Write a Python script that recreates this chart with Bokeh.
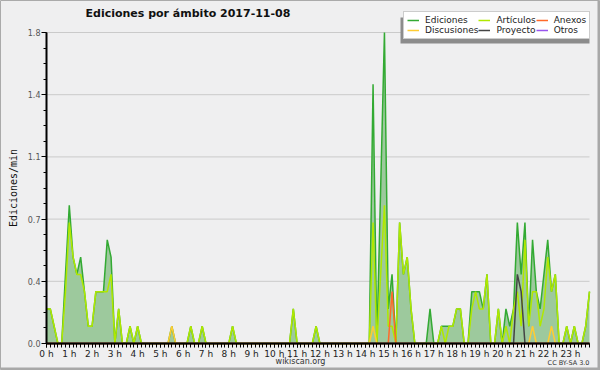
from bokeh.plotting import figure
from bokeh.models import FixedTicker, Legend, LegendItem, Label, BoxAnnotation, ColumnDataSource
from bokeh.embed import file_html
from bokeh.resources import INLINE

# ---- data: edits per minute, 10-minute slots from 0:00 to 23:50 (one row per hour) ----
hour_labels = [f"{h} h" for h in range(24)]
slot_index = list(range(144))

ediciones = [
    0.2, 0.2, 0.1, 0.0, 0.0, 0.4,
    0.8, 0.5, 0.4, 0.5, 0.3, 0.1,
    0.1, 0.3, 0.3, 0.3, 0.6, 0.5,
    0.0, 0.2, 0.0, 0.0, 0.1, 0.0,
    0.1, 0.0, 0.0, 0.0, 0.0, 0.0,
    0.0, 0.0, 0.0, 0.1, 0.0, 0.0,
    0.0, 0.0, 0.1, 0.0, 0.0, 0.1,
    0.0, 0.0, 0.0, 0.0, 0.0, 0.0,
    0.0, 0.1, 0.0, 0.0, 0.0, 0.0,
    0.0, 0.0, 0.0, 0.0, 0.0, 0.0,
    0.0, 0.0, 0.0, 0.0, 0.0, 0.2,
    0.0, 0.0, 0.0, 0.0, 0.0, 0.1,
    0.0, 0.0, 0.0, 0.0, 0.0, 0.0,
    0.0, 0.0, 0.0, 0.0, 0.0, 0.0,
    0.0, 0.0, 1.5, 0.0, 0.9, 1.8,
    0.2, 0.4, 0.0, 0.7, 0.4, 0.5,
    0.2, 0.0, 0.0, 0.0, 0.0, 0.2,
    0.0, 0.0, 0.1, 0.1, 0.1, 0.1,
    0.2, 0.2, 0.0, 0.0, 0.3, 0.3,
    0.3, 0.2, 0.4, 0.0, 0.0, 0.2,
    0.0, 0.2, 0.1, 0.2, 0.7, 0.4,
    0.7, 0.1, 0.6, 0.3, 0.2, 0.4,
    0.6, 0.3, 0.4, 0.0, 0.0, 0.1,
    0.0, 0.1, 0.0, 0.0, 0.1, 0.3,
]

articulos = [
    0.2, 0.2, 0.1, 0.0, 0.0, 0.3,
    0.7, 0.5, 0.4, 0.4, 0.3, 0.1,
    0.1, 0.3, 0.3, 0.3, 0.3, 0.4,
    0.0, 0.2, 0.0, 0.0, 0.1, 0.0,
    0.1, 0.0, 0.0, 0.0, 0.0, 0.0,
    0.0, 0.0, 0.0, 0.0, 0.0, 0.0,
    0.0, 0.0, 0.1, 0.0, 0.0, 0.1,
    0.0, 0.0, 0.0, 0.0, 0.0, 0.0,
    0.0, 0.1, 0.0, 0.0, 0.0, 0.0,
    0.0, 0.0, 0.0, 0.0, 0.0, 0.0,
    0.0, 0.0, 0.0, 0.0, 0.0, 0.2,
    0.0, 0.0, 0.0, 0.0, 0.0, 0.1,
    0.0, 0.0, 0.0, 0.0, 0.0, 0.0,
    0.0, 0.0, 0.0, 0.0, 0.0, 0.0,
    0.0, 0.0, 0.7, 0.0, 0.4, 0.8,
    0.1, 0.1, 0.0, 0.7, 0.4, 0.5,
    0.2, 0.0, 0.0, 0.0, 0.0, 0.0,
    0.0, 0.0, 0.1, 0.0, 0.1, 0.1,
    0.2, 0.2, 0.0, 0.0, 0.2, 0.3,
    0.2, 0.2, 0.4, 0.0, 0.0, 0.2,
    0.0, 0.1, 0.0, 0.2, 0.3, 0.1,
    0.6, 0.1, 0.3, 0.3, 0.1, 0.2,
    0.5, 0.3, 0.4, 0.0, 0.0, 0.1,
    0.0, 0.1, 0.0, 0.0, 0.1, 0.3,
]

discusiones = [
    0.0, 0.0, 0.0, 0.0, 0.0, 0.0,
    0.0, 0.0, 0.0, 0.0, 0.0, 0.0,
    0.0, 0.0, 0.0, 0.0, 0.0, 0.0,
    0.0, 0.0, 0.0, 0.0, 0.0, 0.0,
    0.0, 0.0, 0.0, 0.0, 0.0, 0.0,
    0.0, 0.0, 0.0, 0.1, 0.0, 0.0,
    0.0, 0.0, 0.0, 0.0, 0.0, 0.0,
    0.0, 0.0, 0.0, 0.0, 0.0, 0.0,
    0.0, 0.0, 0.0, 0.0, 0.0, 0.0,
    0.0, 0.0, 0.0, 0.0, 0.0, 0.0,
    0.0, 0.0, 0.0, 0.0, 0.0, 0.0,
    0.0, 0.0, 0.0, 0.0, 0.0, 0.0,
    0.0, 0.0, 0.0, 0.0, 0.0, 0.0,
    0.0, 0.0, 0.0, 0.0, 0.0, 0.0,
    0.0, 0.0, 0.1, 0.0, 0.0, 0.0,
    0.0, 0.0, 0.0, 0.0, 0.0, 0.0,
    0.0, 0.0, 0.0, 0.0, 0.0, 0.0,
    0.0, 0.0, 0.0, 0.0, 0.0, 0.0,
    0.0, 0.0, 0.0, 0.0, 0.0, 0.0,
    0.0, 0.0, 0.0, 0.0, 0.0, 0.0,
    0.0, 0.0, 0.0, 0.0, 0.0, 0.0,
    0.0, 0.0, 0.1, 0.0, 0.0, 0.0,
    0.0, 0.1, 0.0, 0.0, 0.0, 0.0,
    0.0, 0.0, 0.0, 0.0, 0.0, 0.0,
]

proyecto = [
    0.0, 0.0, 0.0, 0.0, 0.0, 0.0,
    0.0, 0.0, 0.0, 0.0, 0.0, 0.0,
    0.0, 0.0, 0.0, 0.0, 0.0, 0.0,
    0.0, 0.0, 0.0, 0.0, 0.0, 0.0,
    0.0, 0.0, 0.0, 0.0, 0.0, 0.0,
    0.0, 0.0, 0.0, 0.0, 0.0, 0.0,
    0.0, 0.0, 0.0, 0.0, 0.0, 0.0,
    0.0, 0.0, 0.0, 0.0, 0.0, 0.0,
    0.0, 0.0, 0.0, 0.0, 0.0, 0.0,
    0.0, 0.0, 0.0, 0.0, 0.0, 0.0,
    0.0, 0.0, 0.0, 0.0, 0.0, 0.0,
    0.0, 0.0, 0.0, 0.0, 0.0, 0.0,
    0.0, 0.0, 0.0, 0.0, 0.0, 0.0,
    0.0, 0.0, 0.0, 0.0, 0.0, 0.0,
    0.0, 0.0, 0.0, 0.0, 0.0, 0.0,
    0.0, 0.0, 0.0, 0.0, 0.0, 0.0,
    0.0, 0.0, 0.0, 0.0, 0.0, 0.0,
    0.0, 0.0, 0.0, 0.0, 0.0, 0.0,
    0.0, 0.0, 0.0, 0.0, 0.0, 0.0,
    0.0, 0.0, 0.0, 0.0, 0.0, 0.0,
    0.0, 0.0, 0.0, 0.0, 0.4, 0.3,
    0.0, 0.0, 0.0, 0.0, 0.0, 0.0,
    0.0, 0.0, 0.0, 0.0, 0.0, 0.0,
    0.0, 0.0, 0.0, 0.0, 0.0, 0.0,
]

anexos = [
    0.0, 0.0, 0.0, 0.0, 0.0, 0.0,
    0.0, 0.0, 0.0, 0.0, 0.0, 0.0,
    0.0, 0.0, 0.0, 0.0, 0.0, 0.0,
    0.0, 0.0, 0.0, 0.0, 0.0, 0.0,
    0.0, 0.0, 0.0, 0.0, 0.0, 0.0,
    0.0, 0.0, 0.0, 0.0, 0.0, 0.0,
    0.0, 0.0, 0.0, 0.0, 0.0, 0.0,
    0.0, 0.0, 0.0, 0.0, 0.0, 0.0,
    0.0, 0.0, 0.0, 0.0, 0.0, 0.0,
    0.0, 0.0, 0.0, 0.0, 0.0, 0.0,
    0.0, 0.0, 0.0, 0.0, 0.0, 0.0,
    0.0, 0.0, 0.0, 0.0, 0.0, 0.0,
    0.0, 0.0, 0.0, 0.0, 0.0, 0.0,
    0.0, 0.0, 0.0, 0.0, 0.0, 0.0,
    0.0, 0.0, 0.0, 0.0, 0.0, 0.0,
    0.0, 0.3, 0.0, 0.0, 0.0, 0.0,
    0.0, 0.0, 0.0, 0.0, 0.0, 0.0,
    0.0, 0.0, 0.0, 0.0, 0.0, 0.0,
    0.0, 0.0, 0.0, 0.0, 0.0, 0.0,
    0.0, 0.0, 0.0, 0.0, 0.0, 0.0,
    0.0, 0.0, 0.0, 0.0, 0.0, 0.0,
    0.0, 0.0, 0.0, 0.0, 0.0, 0.0,
    0.0, 0.0, 0.0, 0.0, 0.0, 0.0,
    0.0, 0.0, 0.0, 0.0, 0.0, 0.0,
]

otros = [0.0] * 144

y_ticks = [0.0, 0.36, 0.72, 1.08, 1.44, 1.8]
y_tick_labels = ["0.0", "0.4", "0.7", "1.1", "1.4", "1.8"]

series_colors = {
    "Ediciones": "#33aa33",
    "Artículos": "#b0e800",
    "Anexos": "#ff6a2a",
    "Discusiones": "#ffcc33",
    "Proyecto": "#444444",
    "Otros": "#9955ee",
}

src = ColumnDataSource(dict(x=slot_index, ed=ediciones, art=articulos, disc=discusiones,
                            proj=proyecto, anx=anexos, otr=otros))

FONT = "DejaVu Sans"

# ---- layout (canvas pixels): frame fills the canvas, axes are placed at fixed locations ----
CW, CH = 600, 370
X_LO, X_HI = slot_index[0], slot_index[-1]
Y_LO, Y_HI = y_ticks[0], y_ticks[-1]
PX_X0, PX_X1 = 46, 589      # canvas x of first / last slot
PX_Y0, PX_Y1 = 343, 32      # canvas y of 0 / top value
ux = (X_HI - X_LO) / (PX_X1 - PX_X0)
uy = (Y_HI - Y_LO) / (PX_Y0 - PX_Y1)
x_range = (X_LO - PX_X0 * ux, X_HI + (CW - PX_X1) * ux)
y_range = (Y_LO - (CH - PX_Y0) * uy, Y_HI + PX_Y1 * uy)

p = figure(width=CW, height=CH, x_range=x_range, y_range=y_range,
           output_backend="svg", toolbar_location=None, title=None,
           min_border=0, min_border_left=0, min_border_right=0,
           min_border_top=0, min_border_bottom=0)
p.background_fill_color = "#efeff0"
p.border_fill_color = "#efeff0"
p.outline_line_color = "#aaaaaa"
p.outline_line_width = 1

# thicker right / bottom edge of the picture frame
edge_kw = dict(left_units="screen", right_units="screen", top_units="screen",
               bottom_units="screen", fill_color="#a8a8a8", fill_alpha=1.0, line_color=None)
p.add_layout(BoxAnnotation(left=CW - 3, right=CW, bottom=0, top=CH, **edge_kw))
p.add_layout(BoxAnnotation(left=0, right=CW, bottom=0, top=3, **edge_kw))

# grid (only across the data area)
p.xgrid.visible = False
p.ygrid.visible = False
p.segment(x0=X_LO, x1=X_HI, y0=y_ticks, y1=y_ticks, line_color="#cacaca", line_width=1,
          level="underlay")

# series
p.varea(x="x", y1=0, y2="ed", source=src, fill_color="#9dc99d", fill_alpha=1.0)
r_otr = p.line("x", "otr", source=src, line_color=series_colors["Otros"], line_width=1.5)
r_ed = p.line("x", "ed", source=src, line_color=series_colors["Ediciones"], line_width=1.5)
r_art = p.line("x", "art", source=src, line_color=series_colors["Artículos"], line_width=1.5)
r_disc = p.line("x", "disc", source=src, line_color=series_colors["Discusiones"], line_width=1.5)
r_anx = p.line("x", "anx", source=src, line_color=series_colors["Anexos"], line_width=1.5)
r_proj = p.line("x", "proj", source=src, line_color=series_colors["Proyecto"], line_width=1.5)

# axes
xa = p.xaxis[0]
xa.fixed_location = Y_LO
xa.bounds = (X_LO, X_HI)
xa.ticker = FixedTicker(ticks=[6 * h for h in range(24)], minor_ticks=slot_index)
xa.major_label_overrides = {6 * h: hour_labels[h] for h in range(24)}
xa.axis_line_color = "black"
xa.axis_line_width = 2
xa.major_tick_in = 0
xa.major_tick_out = 4
xa.minor_tick_in = 0
xa.minor_tick_out = 4
xa.major_tick_line_color = "black"
xa.minor_tick_line_color = "black"
xa.major_label_standoff = 1
xa.major_label_text_font = FONT
xa.major_label_text_font_size = "9px"
xa.major_label_text_color = "#222222"

ya = p.yaxis[0]
ya.fixed_location = X_LO
ya.bounds = (Y_LO, Y_HI)
ya.ticker = FixedTicker(ticks=y_ticks, minor_ticks=[0.09 * k for k in range(21)])
ya.major_label_overrides = dict(zip(y_ticks, y_tick_labels))
ya.axis_line_color = "black"
ya.axis_line_width = 2
ya.major_tick_in = 0
ya.major_tick_out = 5
ya.minor_tick_in = 0
ya.minor_tick_out = 3
ya.major_label_standoff = 1
ya.major_label_text_font = FONT
ya.major_label_text_font_size = "8px"
ya.major_label_text_color = "#555555"
ya.axis_label = "Ediciones/min"
ya.axis_label_text_font = "DejaVu Sans Mono"
ya.axis_label_text_font_size = "10px"
ya.axis_label_text_font_style = "normal"
ya.axis_label_text_color = "#111111"
ya.axis_label_standoff = 6

# legend with shadow (screen units measured from the canvas bottom-left)
shadow = BoxAnnotation(left=400, right=589, top=353, bottom=327,
                       left_units="screen", right_units="screen",
                       top_units="screen", bottom_units="screen",
                       fill_color="#8c8c8c", fill_alpha=1.0, line_color=None)
p.add_layout(shadow)

items = [
    LegendItem(label="Ediciones", renderers=[r_ed]),
    LegendItem(label="Artículos", renderers=[r_art]),
    LegendItem(label="Anexos", renderers=[r_anx]),
    LegendItem(label="Discusiones", renderers=[r_disc]),
    LegendItem(label="Proyecto", renderers=[r_proj]),
    LegendItem(label="Otros", renderers=[r_otr]),
]
legend = Legend(items=items, location=(403, 331), orientation="horizontal", ncols=3,
                label_text_font=FONT, label_text_font_size="9px", label_text_color="#222222",
                glyph_width=12, glyph_height=10, label_height=10, label_standoff=6,
                spacing=0, padding=3, margin=0,
                border_line_color="#999999", border_line_width=1,
                background_fill_color="white", background_fill_alpha=1.0)
p.add_layout(legend)

# texts (vertical centres given)
p.add_layout(Label(x=85, y=CH - 13, x_units="screen", y_units="screen",
                   text="Ediciones por ámbito  2017-11-08", text_font=FONT,
                   text_font_size="11px", text_font_style="bold", text_color="#111111",
                   text_baseline="middle", text_align="left"))
p.add_layout(Label(x=300, y=CH - 361, x_units="screen", y_units="screen",
                   text="wikiscan.org", text_font=FONT, text_font_size="8px",
                   text_color="#333333", text_baseline="middle", text_align="center"))
p.add_layout(Label(x=589, y=CH - 362, x_units="screen", y_units="screen",
                   text="CC BY-SA 3.0", text_font=FONT, text_font_size="6.5px",
                   text_color="#333333", text_baseline="middle", text_align="right"))

open("out.html", "w").write(file_html(p, INLINE))
